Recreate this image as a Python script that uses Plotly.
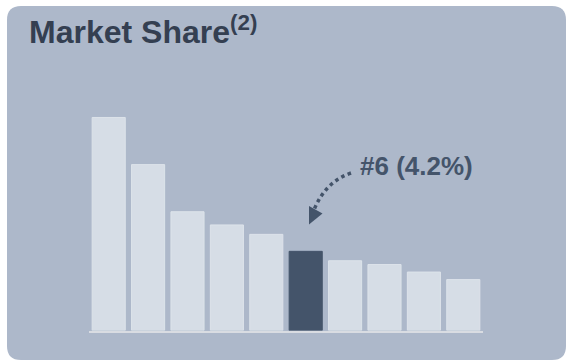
import plotly.graph_objects as go

# Market share by rank (percent); rank 6 is the highlighted company
ranks = ["#1", "#2", "#3", "#4", "#5", "#6", "#7", "#8", "#9", "#10"]
shares = [11.3, 8.8, 6.3, 5.6, 5.1, 4.2, 3.7, 3.5, 3.1, 2.7]
highlight_rank = "#6"
title_text = "Market Share"
title_note = "(2)"

W, H = 567, 361
PANEL = "#adb8ca"
BAR = "#d6dde6"
BAR_DARK = "#44546a"
TITLE = "#343f51"
TEXT = "#44546a"


def px(x):
    return x / W


def py(y):
    return 1 - y / H


colors = [BAR_DARK if r == highlight_rank else BAR for r in ranks]
hi = shares[ranks.index(highlight_rank)]

fig = go.Figure(
    go.Bar(
        x=ranks,
        y=shares,
        marker=dict(color=colors, line=dict(color=["#44546a" if r == highlight_rank else "#dde3ea" for r in ranks], width=1)),
        width=0.84,
        hoverinfo="skip",
    )
)

# rounded card behind the chart
r = 14
x0, x1, y0, y1 = 7, 566, 6, 360
card = (
    f"M {px(x0 + r)},{py(y0)} L {px(x1 - r)},{py(y0)} "
    f"Q {px(x1)},{py(y0)} {px(x1)},{py(y0 + r)} "
    f"L {px(x1)},{py(y1 - r)} Q {px(x1)},{py(y1)} {px(x1 - r)},{py(y1)} "
    f"L {px(x0 + r)},{py(y1)} Q {px(x0)},{py(y1)} {px(x0)},{py(y1 - r)} "
    f"L {px(x0)},{py(y0 + r)} Q {px(x0)},{py(y0)} {px(x0 + r)},{py(y0)} Z"
)

# dotted curved pointer and its arrowhead
curve = f"M {px(351)},{py(173)} Q {px(325)},{py(182)} {px(314)},{py(210)}"
head = f"M {px(309)},{py(206)} L {px(322.5)},{py(213.5)} L {px(309)},{py(224.5)} Z"

fig.update_layout(
    width=W,
    height=H,
    margin=dict(l=0, r=0, t=0, b=0),
    paper_bgcolor="white",
    plot_bgcolor="rgba(0,0,0,0)",
    showlegend=False,
    bargap=0.16,
    xaxis=dict(
        domain=[px(89), px(483)],
        range=[-0.5, 9.5],
        showticklabels=False,
        showgrid=False,
        zeroline=False,
        showline=True,
        linecolor="#d9dce2",
        linewidth=2,
        ticks="",
        fixedrange=True,
    ),
    yaxis=dict(
        domain=[py(330.5), py(100)],
        range=[0, 230 / 18.81],
        showticklabels=False,
        showgrid=False,
        zeroline=False,
        showline=False,
        fixedrange=True,
    ),
    shapes=[
        dict(type="path", path=card, xref="paper", yref="paper", fillcolor=PANEL, line=dict(width=0), layer="below"),
        dict(type="path", path=curve, xref="paper", yref="paper", line=dict(color=TEXT, width=3.5, dash="dot"), layer="above"),
        dict(type="path", path=head, xref="paper", yref="paper", fillcolor=TEXT, line=dict(width=0), layer="above"),
    ],
    annotations=[
        dict(
            x=px(27), y=py(30), xref="paper", yref="paper", xanchor="left", yanchor="middle",
            text=f"<b>{title_text}<sup>{title_note}</sup></b>", showarrow=False,
            font=dict(family="Liberation Sans, Arial, sans-serif", size=32, color=TITLE),
        ),
        dict(
            x=px(358), y=py(166), xref="paper", yref="paper", xanchor="left", yanchor="middle",
            text=f"<b>{highlight_rank} ({hi:.1f}%)</b>", showarrow=False,
            font=dict(family="Liberation Sans, Arial, sans-serif", size=26, color=TEXT),
        ),
    ],
)

fig.write_html("out.html", config={"displayModeBar": False})
